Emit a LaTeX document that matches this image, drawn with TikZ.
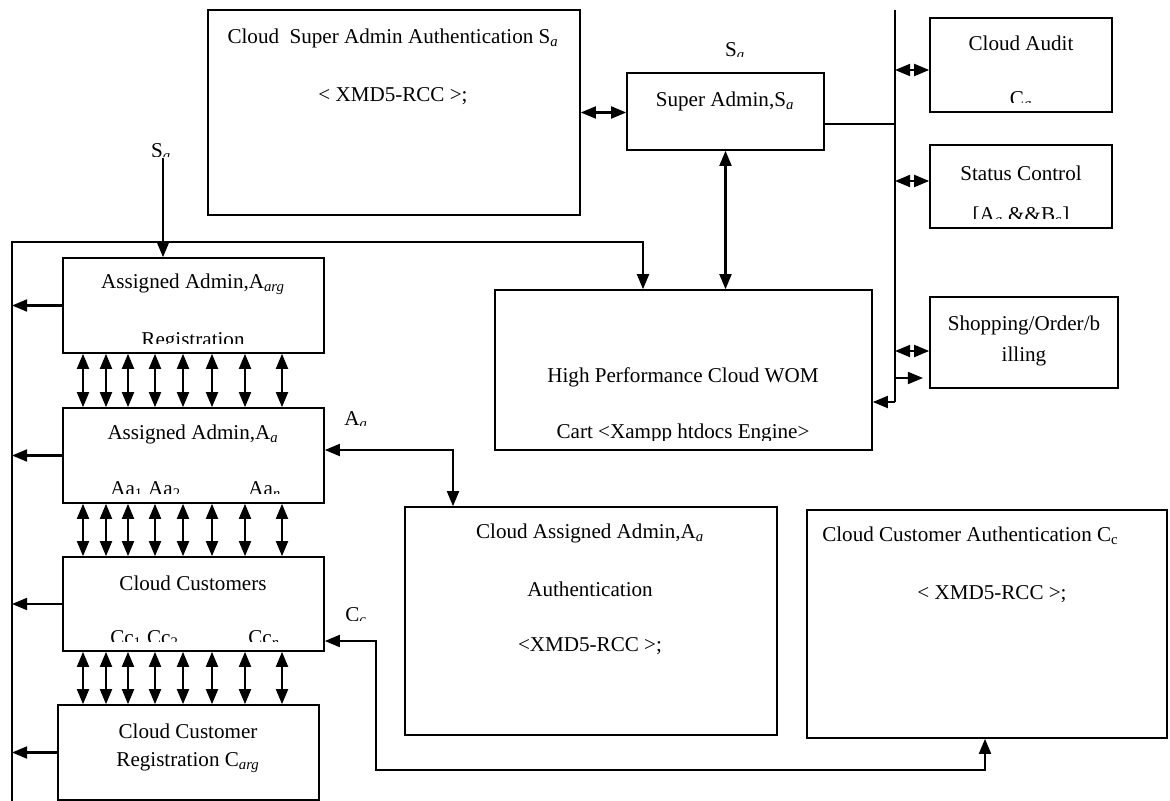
\documentclass[tikz,border=0pt]{standalone}
\usepackage{fontspec}
\setmainfont{Liberation Serif}
\usetikzlibrary{arrows.meta,fit}

\tikzset{
  box/.style={draw,line width=1.1pt,inner sep=0pt},
  txt/.style={inner sep=0pt,font=\fontsize{15}{18}\selectfont},
  arr/.style={line width=1.6pt,-{Triangle[length=3.8mm,width=3mm]}},
  dbl/.style={line width=1.6pt,{Triangle[length=3.8mm,width=3mm]}-{Triangle[length=3.8mm,width=3mm]}},
  wire/.style={line width=1.3pt}
}
\newcommand{\subi}[1]{\textsubscript{\textit{#1}}}

\begin{document}
\begin{tikzpicture}[x=0.025cm,y=-0.025cm]
    \useasboundingbox (0,0) rectangle (1170,801);
    %boxes
    \node[box,fit={(208,10) (580,215)}] (sauth) {};
    \node[box,fit={(627,73) (824,150)}] (sadmin) {};
    \node[box,fit={(930,18) (1112,112)}] (audit) {};
    \node[box,fit={(930,145) (1112,228)}] (status) {};
    \node[box,fit={(930,297) (1118,388)}] (shop) {};
    \node[box,fit={(495,290) (872,450)}] (wom) {};
    \node[box,fit={(63,258) (324,353)}] (aarg) {};
    \node[box,fit={(63,408) (324,503)}] (aa) {};
    \node[box,fit={(63,557) (324,651)}] (cust) {};
    \node[box,fit={(58,705) (319,800)}] (creg) {};
    \node[box,fit={(405,507) (777,735)}] (caa) {};
    \node[box,fit={(807,510) (1167,738)}] (cca) {};
    %texts
    \node[txt] (sauth1) at (393,38) {Cloud\ \ Super Admin Authentication S\subi{a}};
    \node[txt] (sauth2) at (393,96) {< XMD5-RCC >;};
    \node[txt] (sadmin1) at (725,101) {Super Admin,S\subi{a}};
    \node[txt] (audit1) at (1021,43) {Cloud Audit};
    \node[txt] (status1) at (1021,173) {Status Control};
    \node[txt] (shop1) at (1024,325) {Shopping/Order/b};
    \node[txt] (shop2) at (1024,356) {illing};
    \node[txt] (wom1) at (683,377) {High Performance Cloud WOM};
    \node[txt] (aarg1) at (193,284) {Assigned Admin,A\subi{arg}};
    \node[txt] (aa1) at (193,434) {Assigned Admin,A\subi{a}};
    \node[txt] (cust1) at (193,583) {Cloud Customers};
    \node[txt] (creg1) at (188,731) {Cloud Customer};
    \node[txt] (creg2) at (188,763) {Registration C\subi{arg}};
    \node[txt] (caa1) at (590,533) {Cloud Assigned Admin,A\subi{a}};
    \node[txt] (caa2) at (590,589) {Authentication};
    \node[txt] (caa3) at (590,646) {<XMD5-RCC >;};
    \node[txt,anchor=west] (cca1) at (822,536) {Cloud Customer Authentication C\textsubscript{c}};
    \node[txt] (cca2) at (992,594) {< XMD5-RCC >;};
    %cut off texts
    \begin{scope}
      \clip (600,30) rectangle (900,57);
      \node[txt] (slabel) at (735,51) {S\subi{a}};
    \end{scope}
    \begin{scope}
      \clip (100,140) rectangle (220,157);
      \node[txt] (sleft) at (161,152) {S\subi{a}};
    \end{scope}
    \begin{scope}
      \clip (330,400) rectangle (400,425);
      \node[txt] (alabel) at (356,420) {A\subi{a}};
    \end{scope}
    \begin{scope}
      \clip (330,600) rectangle (400,620);
      \node[txt] (clabel) at (356,616) {C\subi{c}};
    \end{scope}
    \begin{scope}
      \clip (audit.north west) rectangle ([yshift=0.25cm]audit.south east);
      \node[txt] (audit2) at (1021,100) {C\subi{a}};
    \end{scope}
    \begin{scope}
      \clip (status.north west) rectangle ([yshift=0.25cm]status.south east);
      \node[txt] (status2) at (1021,216) {[A\subi{a} \&\&B\textsubscript{c}]};
    \end{scope}
    \begin{scope}
      \clip (wom.north west) rectangle ([yshift=0.25cm]wom.south east);
      \node[txt] (wom2) at (683,433) {Cart <Xampp htdocs Engine>};
    \end{scope}
    \begin{scope}
      \clip (aarg.north west) rectangle ([yshift=0.25cm]aarg.south east);
      \node[txt] (aarg2) at (193,342) {Registration};
    \end{scope}
    \begin{scope}
      \clip (aa.north west) rectangle ([yshift=0.25cm]aa.south east);
      \node[txt,anchor=west] (aa2) at (110,490) {Aa\textsubscript{1} Aa\textsubscript{2}};
      \node[txt,anchor=west] (aa3) at (248,490) {Aa\subi{n}};
    \end{scope}
    \begin{scope}
      \clip (cust.north west) rectangle ([yshift=0.25cm]cust.south east);
      \node[txt,anchor=west] (cust2) at (110,639) {Cc\textsubscript{1} Cc\textsubscript{2}};
      \node[txt,anchor=west] (cust3) at (248,639) {Cc\subi{n}};
    \end{scope}
    %bus on the right
    \coordinate (bustop) at (895,10);
    \coordinate (busbot) at (895,402);
    \draw[wire] (bustop) -- (busbot);
    \draw[dbl] (bustop |- 0,70) -- (audit.west |- 0,70);
    \draw[dbl] (bustop |- 0,181) -- (status.west |- 0,181);
    \draw[dbl] (bustop |- 0,351) -- (shop.west |- 0,351);
    \draw[arr] (bustop |- 0,378) -- (923,378);
    \draw[arr] (busbot) -- (busbot -| wom.east);
    \draw[wire] (sadmin.east |- 0,124) -- (bustop |- 0,124);
    %super admin
    \draw[dbl] (sauth.east) -- (sauth.east -| sadmin.west);
    \draw[dbl] (sadmin.south) -- (sadmin.south |- wom.north);
    %left loop
    \coordinate (lbot) at (12,801);
    \coordinate (ltop) at (12,242);
    \coordinate (womin) at (643,242);
    \draw[arr] (lbot) -- (ltop) -- (womin) -- (womin |- wom.north);
    \foreach \b in {aarg,aa,cust,creg}
      \draw[arr] (\b.west) -- (\b.west -| ltop);
    \coordinate (sin) at (163,158);
    \draw[arr] (sin) -- (sin |- aarg.north);
    %links between the admin and customer boxes
    \foreach \x in {83,106,128,155,183,212,245,282} {
      \draw[dbl] (aarg.south -| \x,0) -- (aa.north -| \x,0);
      \draw[dbl] (aa.south -| \x,0) -- (cust.north -| \x,0);
      \draw[dbl] (cust.south -| \x,0) -- (creg.north -| \x,0);
    }
    %authentication links
    \coordinate (aaturn) at (453,450);
    \draw[dbl] (aa.east |- aaturn) -- (aaturn) -- (aaturn |- caa.north);
    \coordinate (ccturn) at (376,641);
    \coordinate (ccbot) at (376,770);
    \coordinate (ccup) at (985,770);
    \draw[dbl] (cust.east |- ccturn) -- (ccturn) -- (ccbot) -- (ccup) -- (ccup |- cca.south);
\end{tikzpicture}
\end{document}
